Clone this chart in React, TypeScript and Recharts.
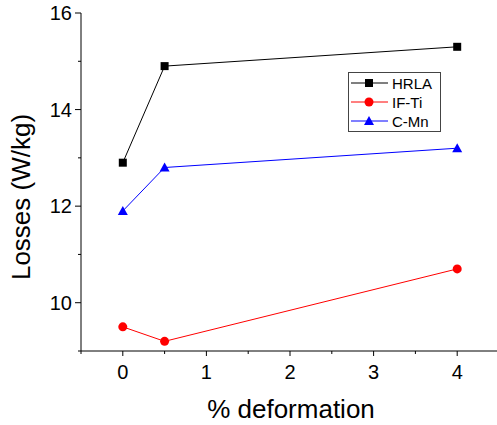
import { Legend, Line, LineChart, XAxis, YAxis } from "recharts"

const deformation = [0, 0.5, 4]
const hrla = [12.9, 14.9, 15.3]
const ifTi = [9.5, 9.2, 10.7]
const cMn = [11.9, 12.8, 13.2]

const xTicks = [-0.5, 0, 0.5, 1, 1.5, 2, 2.5, 3, 3.5, 4, 4.5]
const yTicks = [9, 10, 11, 12, 13, 14, 15, 16]
const yLabelled = [10, 12, 14, 16]

const series = [
    { key: "hrla", name: "HRLA", color: "#000000", shape: "square" },
    { key: "ifTi", name: "IF-Ti", color: "#ff0000", shape: "circle" },
    { key: "cMn", name: "C-Mn", color: "#0000ff", shape: "triangle" },
]

const data = deformation.map((x, i) => ({ x, hrla: hrla[i], ifTi: ifTi[i], cMn: cMn[i] }))

const font = "Arial, 'Liberation Sans', sans-serif"

function Marker({ cx, cy, shape, color }: any) {
    if (cx == null || cy == null) return null
    if (shape === "square") return <rect x={cx - 4} y={cy - 4} width={8} height={8} fill={color} />
    if (shape === "circle") return <circle cx={cx} cy={cy} r={4.5} fill={color} />
    return <polygon points={`${cx},${cy - 5} ${cx - 5},${cy + 4} ${cx + 5},${cy + 4}`} fill={color} />
}

function XTick({ x, y, payload }: any) {
    const major = Number.isInteger(payload.value)
    return (
        <g>
            <line x1={x} x2={x} y1={y} y2={y + (major ? 5 : 3)} stroke="#000" />
            {major && (
                <text x={x} y={y + 21} textAnchor="middle" dominantBaseline="central" fontSize={20} fontFamily={font} fill="#000">
                    {payload.value}
                </text>
            )}
        </g>
    )
}

function YTick({ x, y, payload }: any) {
    const labelled = yLabelled.includes(payload.value)
    return (
        <g>
            <line x1={x} x2={x - (labelled ? 6 : 3)} y1={y} y2={y} stroke="#000" />
            {labelled && (
                <text x={x - 9} y={y} textAnchor="end" dominantBaseline="central" fontSize={20} fontFamily={font} fill="#000">
                    {payload.value}
                </text>
            )}
        </g>
    )
}

function LegendBox() {
    return (
        <svg width={93} height={60} style={{ display: "block" }}>
            <rect x={0.5} y={0.5} width={92} height={59} fill="#fff" stroke="#444" />
            {series.map((s, i) => {
                const cy = 11 + i * 19
                return (
                    <g key={s.key}>
                        <line x1={3} x2={40} y1={cy} y2={cy} stroke={s.color} />
                        <Marker cx={21} cy={cy} shape={s.shape} color={s.color} />
                        <text x={44} y={cy} dominantBaseline="central" fontSize={15} fontFamily={font} fill="#000">
                            {s.name}
                        </text>
                    </g>
                )
            })}
        </svg>
    )
}

export default function App() {
    return (
        <div style={{ position: "absolute", left: 0, top: 0, width: 497, height: 425, background: "#fff", overflow: "hidden" }}>
            <LineChart width={497} height={425} data={data} margin={{ top: 13, right: -2, left: 0, bottom: 0 }}>
                <XAxis
                    dataKey="x"
                    type="number"
                    domain={[-0.5, 4.5]}
                    ticks={xTicks}
                    interval={0}
                    height={74}
                    tickSize={0}
                    tickMargin={0}
                    tickLine={false}
                    axisLine={{ stroke: "#000" }}
                    tick={<XTick />}
                    label={() => (
                        <text x={291} y={418} textAnchor="middle" fontSize={26} fontFamily={font} fill="#000">
                            % deformation
                        </text>
                    )}
                />
                <YAxis
                    type="number"
                    domain={[9, 16]}
                    ticks={yTicks}
                    interval={0}
                    width={81}
                    tickSize={0}
                    tickMargin={0}
                    tickLine={false}
                    axisLine={{ stroke: "#000" }}
                    tick={<YTick />}
                    label={() => (
                        <text
                            x={21}
                            y={197}
                            transform="rotate(-90 21 197)"
                            textAnchor="middle"
                            dominantBaseline="central"
                            fontSize={26}
                            fontFamily={font}
                            fill="#000"
                        >
                            Losses (W/kg)
                        </text>
                    )}
                />
                <Legend
                    layout="vertical"
                    align="center"
                    verticalAlign="middle"
                    content={() => <LegendBox />}
                    wrapperStyle={{ left: 348, top: 72, width: 93, height: 60 }}
                />
                {series.map((s) => (
                    <Line
                        key={s.key}
                        dataKey={s.key}
                        name={s.name}
                        type="linear"
                        stroke={s.color}
                        strokeWidth={1}
                        dot={(p: any) => <Marker key={`${s.key}-${p.index}`} cx={p.cx} cy={p.cy} shape={s.shape} color={s.color} />}
                        activeDot={false}
                        isAnimationActive={false}
                    />
                ))}
            </LineChart>
        </div>
    )
}
